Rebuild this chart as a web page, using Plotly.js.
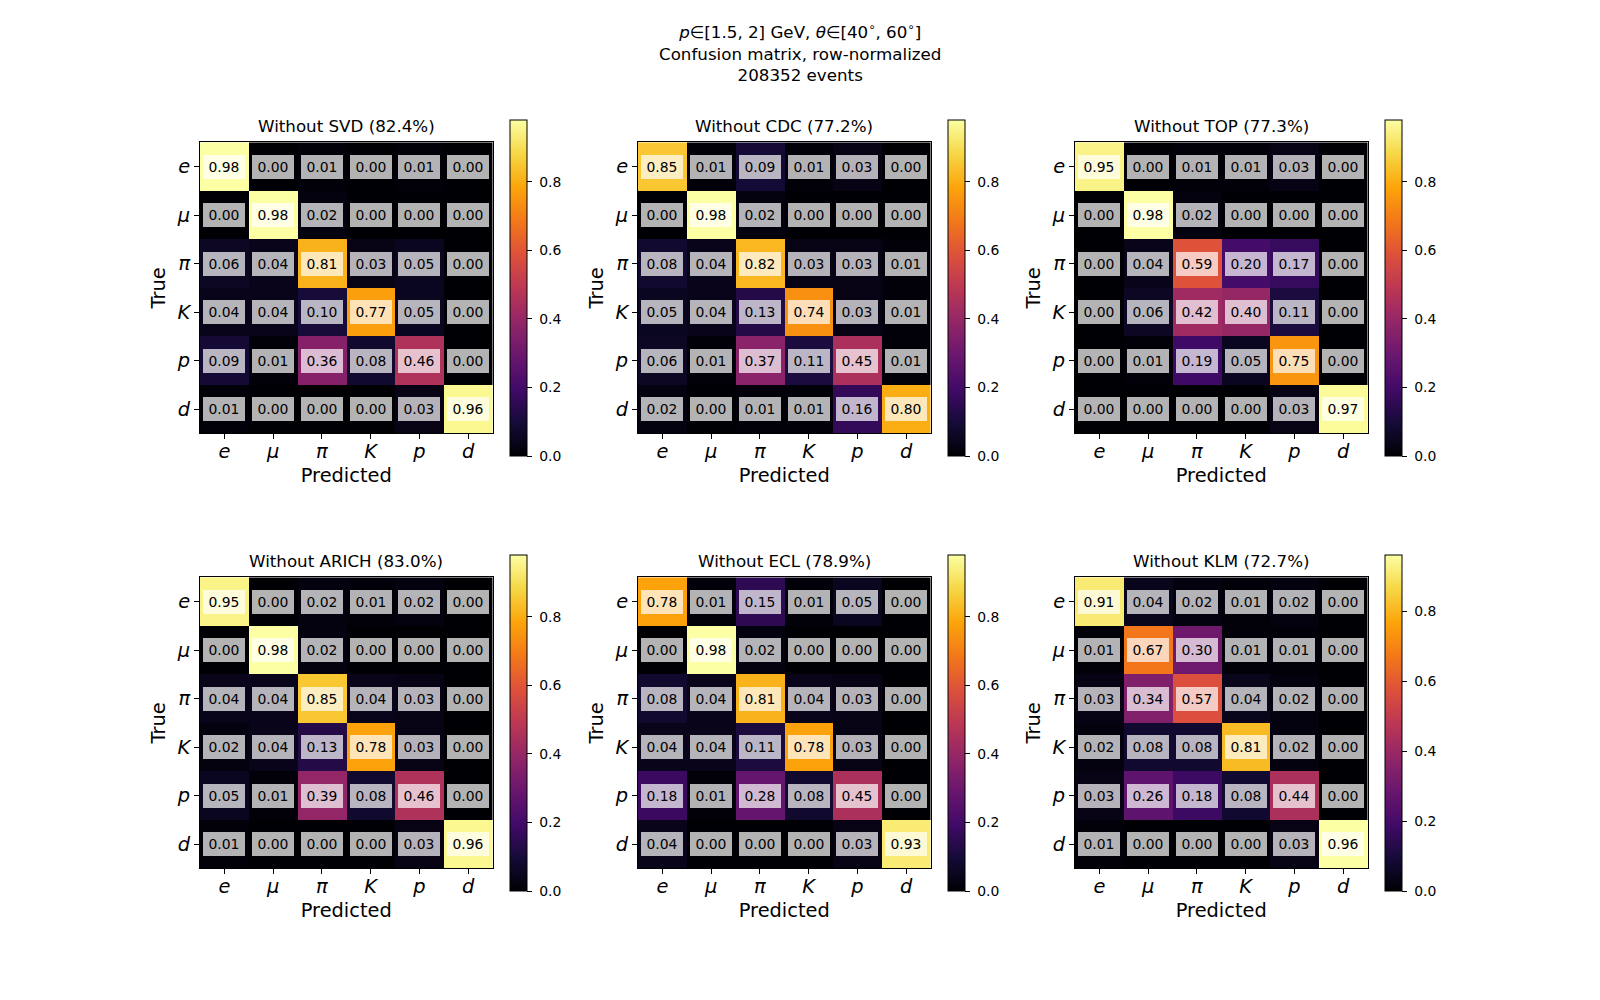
<!DOCTYPE html>
<html>
<head>
<meta charset="utf-8">
<script src="https://cdn.plot.ly/plotly-3.0.1.min.js"></script>
<style>html,body{margin:0;padding:0;background:#fff;}#chart{width:1600px;height:1000px;}</style>
</head>
<body>
<div id="chart"></div>
<script>
// ---- data ----
const categories = ['e', 'μ', 'π', 'K', 'p', 'd'];
const detectors = ['SVD', 'CDC', 'TOP', 'ARICH', 'ECL', 'KLM'];
const accuracies = [82.4, 77.2, 77.3, 83.0, 78.9, 72.7];
const nEvents = 208352;

const matSVD = [
  [0.98, 0.00, 0.01, 0.00, 0.01, 0.00],
  [0.00, 0.98, 0.02, 0.00, 0.00, 0.00],
  [0.06, 0.04, 0.81, 0.03, 0.05, 0.00],
  [0.04, 0.04, 0.10, 0.77, 0.05, 0.00],
  [0.09, 0.01, 0.36, 0.08, 0.46, 0.00],
  [0.01, 0.00, 0.00, 0.00, 0.03, 0.96]
];
const matCDC = [
  [0.85, 0.01, 0.09, 0.01, 0.03, 0.00],
  [0.00, 0.98, 0.02, 0.00, 0.00, 0.00],
  [0.08, 0.04, 0.82, 0.03, 0.03, 0.01],
  [0.05, 0.04, 0.13, 0.74, 0.03, 0.01],
  [0.06, 0.01, 0.37, 0.11, 0.45, 0.01],
  [0.02, 0.00, 0.01, 0.01, 0.16, 0.80]
];
const matTOP = [
  [0.95, 0.00, 0.01, 0.01, 0.03, 0.00],
  [0.00, 0.98, 0.02, 0.00, 0.00, 0.00],
  [0.00, 0.04, 0.59, 0.20, 0.17, 0.00],
  [0.00, 0.06, 0.42, 0.40, 0.11, 0.00],
  [0.00, 0.01, 0.19, 0.05, 0.75, 0.00],
  [0.00, 0.00, 0.00, 0.00, 0.03, 0.97]
];
const matARICH = [
  [0.95, 0.00, 0.02, 0.01, 0.02, 0.00],
  [0.00, 0.98, 0.02, 0.00, 0.00, 0.00],
  [0.04, 0.04, 0.85, 0.04, 0.03, 0.00],
  [0.02, 0.04, 0.13, 0.78, 0.03, 0.00],
  [0.05, 0.01, 0.39, 0.08, 0.46, 0.00],
  [0.01, 0.00, 0.00, 0.00, 0.03, 0.96]
];
const matECL = [
  [0.78, 0.01, 0.15, 0.01, 0.05, 0.00],
  [0.00, 0.98, 0.02, 0.00, 0.00, 0.00],
  [0.08, 0.04, 0.81, 0.04, 0.03, 0.00],
  [0.04, 0.04, 0.11, 0.78, 0.03, 0.00],
  [0.18, 0.01, 0.28, 0.08, 0.45, 0.00],
  [0.04, 0.00, 0.00, 0.00, 0.03, 0.93]
];
const matKLM = [
  [0.91, 0.04, 0.02, 0.01, 0.02, 0.00],
  [0.01, 0.67, 0.30, 0.01, 0.01, 0.00],
  [0.03, 0.34, 0.57, 0.04, 0.02, 0.00],
  [0.02, 0.08, 0.08, 0.81, 0.02, 0.00],
  [0.03, 0.26, 0.18, 0.08, 0.44, 0.00],
  [0.01, 0.00, 0.00, 0.00, 0.03, 0.96]
];
const matrices = [matSVD, matCDC, matTOP, matARICH, matECL, matKLM];
const cbarTicks = [0, 0.2, 0.4, 0.6, 0.8];

// ---- styling / layout ----
const FONT = 'DejaVu Sans, Verdana, sans-serif';
const W = 1600, H = 1000;
const inferno = [
  [0.0, '#000004'], [0.1, '#160b39'], [0.2, '#420a68'], [0.3, '#6a176e'],
  [0.4, '#932667'], [0.5, '#bc3754'], [0.6, '#dd513a'], [0.7, '#f37819'],
  [0.8, '#fca50a'], [0.9, '#f6d746'], [1.0, '#fcffa4']
];
const colLeft = [200, 638, 1075];   // px
const rowTop = [142.3, 577.3];      // px
const hmW = 292.5, hmH = 291;
const cbOffset = 310, cbThick = 17;
const cbTop = [120, 555], cbLen = 335.5;

const traces = [];
const layout = {
  width: W, height: H,
  margin: {l: 0, r: 0, t: 0, b: 0},
  paper_bgcolor: '#ffffff', plot_bgcolor: '#ffffff',
  font: {family: FONT, color: '#000000'},
  showlegend: false,
  annotations: [{
    xref: 'paper', yref: 'paper', x: 0.5, y: 1 - 52.5 / H,
    xanchor: 'center', yanchor: 'middle', showarrow: false, align: 'center',
    text: '<i>p</i>∈[1.5, 2] GeV, <i>θ</i>∈[40<sup>∘</sup>, 60<sup>∘</sup>]<br>Confusion matrix, row-normalized<br>' + nEvents + ' events',
    font: {family: FONT, size: 16.7, color: '#000000'}
  }]
};

matrices.forEach((m, k) => {
  const r = Math.floor(k / 3), c = k % 3;
  const ax = k === 0 ? '' : String(k + 1);
  const xa = 'xaxis' + ax, ya = 'yaxis' + ax;
  const x0 = colLeft[c] / W, x1 = (colLeft[c] + hmW) / W;
  const y1 = 1 - rowTop[r] / H, y0 = 1 - (rowTop[r] + hmH) / H;
  const zmax = Math.max(...m.flat());
  traces.push({
    type: 'heatmap',
    x: categories, y: categories, z: m,
    xaxis: 'x' + ax, yaxis: 'y' + ax,
    colorscale: inferno, zmin: 0, zmax: zmax,
    hoverinfo: 'skip',
    colorbar: {
      x: (colLeft[c] + cbOffset) / W, xanchor: 'left', xpad: 0,
      y: 1 - cbTop[r] / H, yanchor: 'top', ypad: 0,
      len: cbLen / H, lenmode: 'fraction',
      thickness: cbThick, thicknessmode: 'pixels',
      outlinewidth: 1, outlinecolor: '#000000',
      tickvals: cbarTicks, ticktext: cbarTicks.map(v => '\u00a0' + v.toFixed(1)),
      ticks: 'outside', ticklen: 5, tickwidth: 1, tickcolor: '#000000',
      tickfont: {family: FONT, size: 13.9, color: '#000000'}
    }
  });
  layout[xa] = {
    domain: [x0, x1], anchor: 'y' + ax,
    type: 'category', range: [-0.5, 5.5],
    showline: true, mirror: true, linecolor: '#000000', linewidth: 1,
    ticks: 'outside', ticklen: 5, tickwidth: 1, tickcolor: '#000000',
    ticklabelstandoff: -5,
    showgrid: false, zeroline: false, fixedrange: true,
    tickfont: {family: FONT, size: 19.4, style: 'italic', color: '#000000'},
    title: {text: 'Predicted', font: {family: FONT, size: 19.4, color: '#000000'}, standoff: 6}
  };
  layout[ya] = {
    domain: [y0, y1], anchor: 'x' + ax,
    type: 'category', range: [5.5, -0.5],
    showline: true, mirror: true, linecolor: '#000000', linewidth: 1,
    ticks: 'outside', ticklen: 5, tickwidth: 1, tickcolor: '#000000',
    showgrid: false, zeroline: false, fixedrange: true,
    tickfont: {family: FONT, size: 19.4, style: 'italic', color: '#000000'},
    title: {text: 'True', font: {family: FONT, size: 19.4, color: '#000000'}, standoff: 5}
  };
  // subplot title
  layout.annotations.push({
    xref: 'paper', yref: 'paper',
    x: (x0 + x1) / 2, y: y1 + 16 / H, yanchor: 'middle', xanchor: 'center',
    text: 'Without ' + detectors[k] + ' (' + accuracies[k].toFixed(1) + '%)',
    showarrow: false, font: {family: FONT, size: 16.7, color: '#000000'}
  });
  // cell values
  m.forEach((row, i) => {
    row.forEach((v, j) => {
      layout.annotations.push({
        xref: 'x' + ax, yref: 'y' + ax,
        x: categories[j], y: categories[i],
        text: v.toFixed(2), showarrow: false,
        bgcolor: 'rgba(255,255,255,0.7)', borderwidth: 0, borderpad: 4,
        width: 34, height: 16,
        font: {family: FONT, size: 13.9, color: '#000000'}
      });
    });
  });
});

Plotly.newPlot('chart', traces, layout, {displayModeBar: false, staticPlot: true});
</script>
</body>
</html>
